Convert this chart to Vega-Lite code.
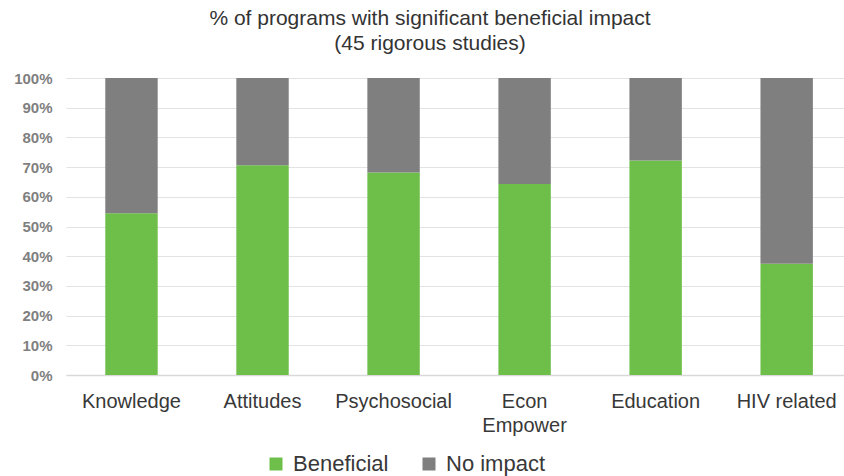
{
  "$schema": "https://vega.github.io/schema/vega-lite/v6.json",
  "width": 778,
  "height": 297,
  "autosize": {"type": "none"},
  "padding": {"left": 66, "top": 78, "right": 0, "bottom": 101},
  "background": "white",
  "title": {
    "text": ["% of programs with significant beneficial impact", "(45 rigorous studies)"],
    "font": "Liberation Sans",
    "fontSize": 21,
    "fontWeight": "normal",
    "color": "#333333",
    "lineHeight": 25,
    "anchor": "middle",
    "frame": "group",
    "dx": -25,
    "offset": 17
  },
  "data": {
    "values": [
      {"program": "Knowledge", "outcome": "Beneficial", "share": 54.5, "rank": 1},
      {"program": "Knowledge", "outcome": "No impact", "share": 45.5, "rank": 2},
      {"program": "Attitudes", "outcome": "Beneficial", "share": 70.6, "rank": 1},
      {"program": "Attitudes", "outcome": "No impact", "share": 29.4, "rank": 2},
      {"program": "Psychosocial", "outcome": "Beneficial", "share": 68.2, "rank": 1},
      {"program": "Psychosocial", "outcome": "No impact", "share": 31.8, "rank": 2},
      {"program": "Econ Empower", "outcome": "Beneficial", "share": 64.3, "rank": 1},
      {"program": "Econ Empower", "outcome": "No impact", "share": 35.7, "rank": 2},
      {"program": "Education", "outcome": "Beneficial", "share": 72.2, "rank": 1},
      {"program": "Education", "outcome": "No impact", "share": 27.8, "rank": 2},
      {"program": "HIV related", "outcome": "Beneficial", "share": 37.5, "rank": 1},
      {"program": "HIV related", "outcome": "No impact", "share": 62.5, "rank": 2}
    ]
  },
  "mark": {"type": "bar"},
  "encoding": {
    "x": {
      "field": "program",
      "type": "nominal",
      "sort": null,
      "scale": {"paddingInner": 0.6, "paddingOuter": 0.2686, "align": 0.558},
      "axis": {
        "title": null,
        "labelAngle": 0,
        "labelFont": "Liberation Sans",
        "labelFontSize": 20,
        "labelColor": "#383838",
        "labelPadding": 16,
        "labelLineHeight": 24.5,
        "labelExpr": "datum.label == 'Econ Empower' ? ['Econ', 'Empower'] : datum.label",
        "ticks": false,
        "domain": true,
        "domainColor": "#d9d9d9",
        "domainWidth": 1.5,
        "grid": false
      }
    },
    "y": {
      "field": "share",
      "type": "quantitative",
      "stack": "zero",
      "scale": {"domain": [0, 100], "nice": false},
      "axis": {
        "title": null,
        "values": [0, 10, 20, 30, 40, 50, 60, 70, 80, 90, 100],
        "labelExpr": "datum.value + '%'",
        "labelFont": "Liberation Sans",
        "labelFontSize": 15,
        "labelFontWeight": "bold",
        "labelColor": "#7f7f7f",
        "labelPadding": 14,
        "ticks": false,
        "domain": false,
        "grid": true,
        "gridColor": "#e3e3e3",
        "gridWidth": 1
      }
    },
    "color": {
      "field": "outcome",
      "type": "nominal",
      "scale": {"domain": ["Beneficial", "No impact"], "range": ["#6ebe4a", "#7f7f7f"]},
      "legend": {
        "title": null,
        "orient": "none",
        "direction": "horizontal",
        "legendX": 199,
        "legendY": 375,
        "symbolType": "square",
        "symbolSize": 169,
        "symbolStrokeWidth": 0,
        "symbolOpacity": 1,
        "labelFont": "Liberation Sans",
        "labelFontSize": 22,
        "labelColor": "#383838",
        "labelOffset": 6,
        "columnPadding": 29,
        "labelLimit": 200
      }
    },
    "order": {"field": "rank", "type": "quantitative"}
  },
  "config": {"view": {"stroke": null}}
}
